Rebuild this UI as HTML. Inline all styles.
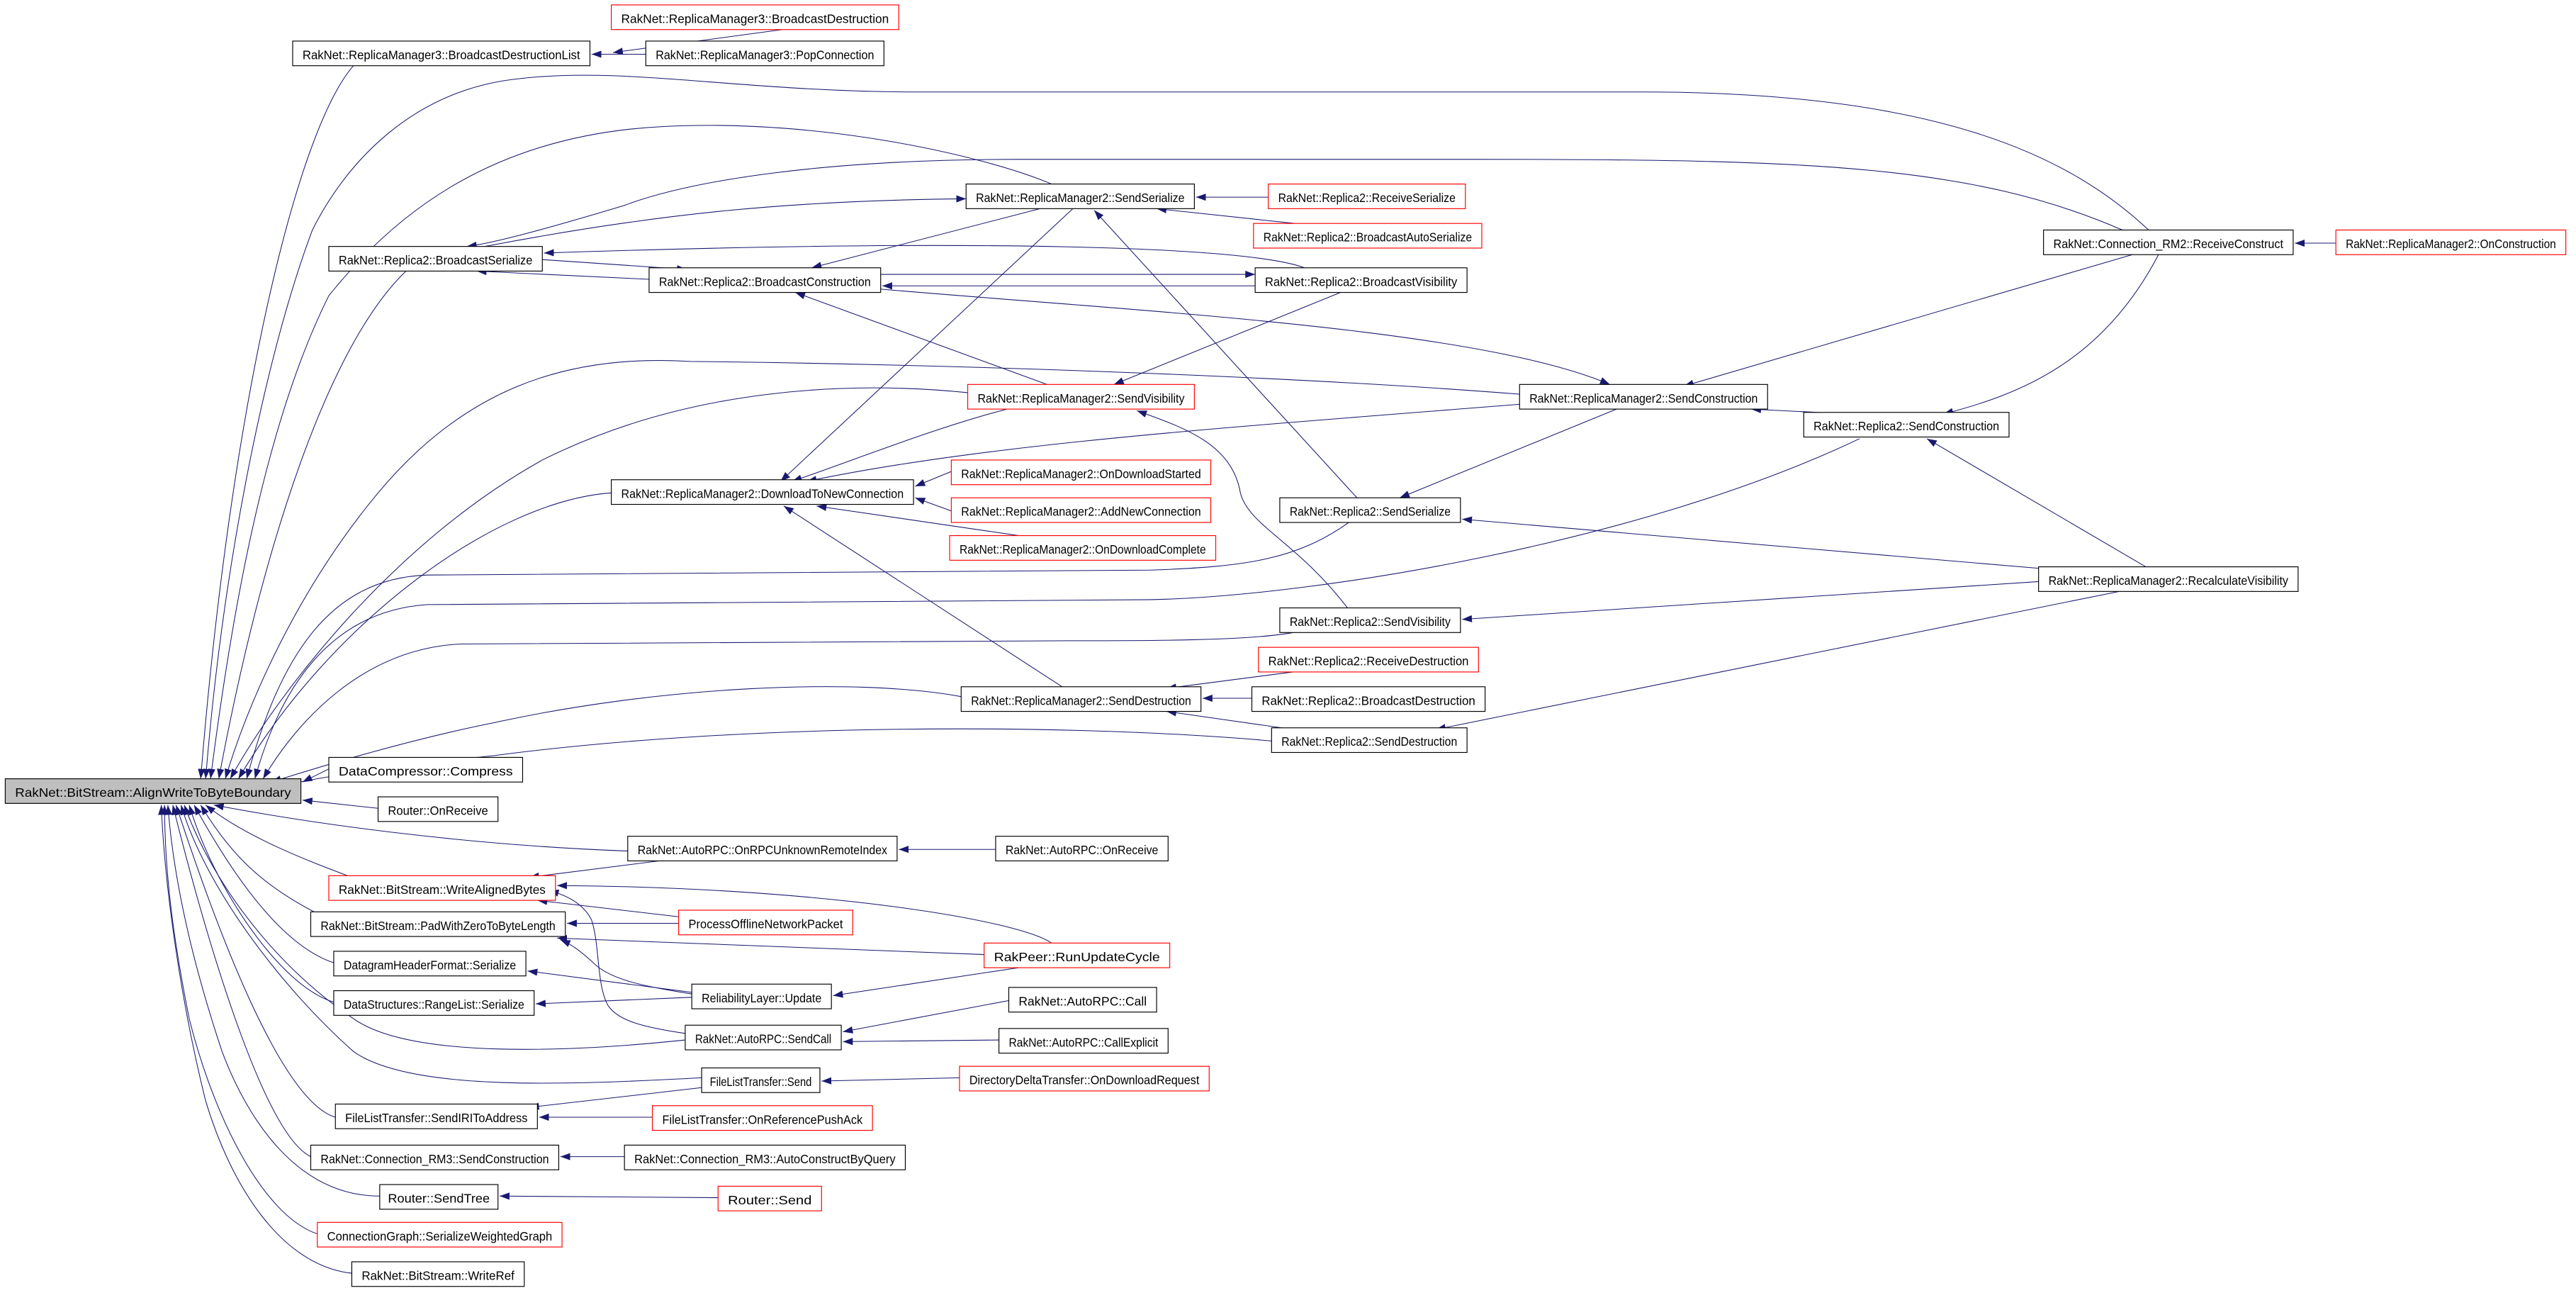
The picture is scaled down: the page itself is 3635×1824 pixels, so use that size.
<!DOCTYPE html>
<html><head><meta charset="utf-8"><style>
html,body{margin:0;padding:0;background:#fff;}
svg{display:block;}
text{font-family:"Liberation Sans",sans-serif;font-size:7.6px;fill:#000;}
.b{fill:#fff;stroke:#000;stroke-width:0.5;}
.r{fill:#fff;stroke:#ff0000;stroke-width:0.5;}
.e{fill:none;stroke:#191970;stroke-width:0.45;marker-end:url(#a);}
</style></head><body>
<svg width="3635" height="1824" viewBox="0 0 1568 787" xmlns="http://www.w3.org/2000/svg">
<defs><marker id="a" markerUnits="userSpaceOnUse" markerWidth="7" markerHeight="5" refX="6" refY="2.2" orient="auto"><path d="M0,0 L6,2.2 L0,4.4 z" fill="#191970"/></marker></defs>
<rect width="1568" height="787" fill="#fff"/>
<!-- edges -->
<g>
<path class="e" d="M476,18 L373,32"/>
<path class="e" d="M393,33 L360,33"/>
<path class="e" d="M215,40 C180,80 140,250 122,474"/>
<path class="e" d="M1308,140 C1260,95 1180,56 1000,56 L560,56 C450,56 380,40 315,48 C250,55 210,100 190,140 C160,220 135,350 125,474"/>
<path class="e" d="M640,112 C600,95 500,72 404,77 C300,82 240,130 200,180 C160,260 140,380 128,474"/>
<path class="e" d="M247,165 C200,210 160,330 133,474"/>
<path class="e" d="M926,240 C800,230 600,222 420,220 C340,215 280,240 230,300 C180,360 150,430 137,474"/>
<path class="e" d="M589,239 C520,232 420,235 330,280 C240,330 170,420 140,474"/>
<path class="e" d="M372,300 C300,305 200,380 145,474"/>
<path class="e" d="M821,318 C790,340 760,345 700,347 L260,350 C200,352 170,400 150,474"/>
<path class="e" d="M1132,267 C1000,330 800,363 700,365 L260,368 C200,372 170,420 155,474"/>
<path class="e" d="M787,385 C760,390 700,390 650,390 L280,392 C220,395 180,440 160,474"/>
<path class="e" d="M585,424 C520,412 400,418 300,440 C250,450 200,465 165,476"/>
<path class="e" d="M774,451 C650,440 450,440 300,460 C250,465 200,472 172,478"/>
<path class="e" d="M200,468 L184,476"/>
<path class="e" d="M230,492 L184,487"/>
<path class="e" d="M382,518 C300,515 210,505 130,490"/>
<path class="e" d="M214,534 C190,525 150,510 125,490"/>
<path class="e" d="M197,558 C160,540 140,520 122,490"/>
<path class="e" d="M203,586 C170,575 140,530 118,490"/>
<path class="e" d="M203,610 C170,600 130,540 115,490"/>
<path class="e" d="M417,633 C350,640 250,645 215,620 C170,590 130,540 112,490"/>
<path class="e" d="M427,656 C350,660 250,665 215,640 C170,600 125,540 110,490"/>
<path class="e" d="M204,680 C170,670 130,560 107,490"/>
<path class="e" d="M189,704 C160,690 125,570 105,490"/>
<path class="e" d="M231,728 C180,728 150,680 135,640 C115,580 105,530 102,490"/>
<path class="e" d="M193,751 C160,740 130,680 115,620 C105,570 100,530 100,490"/>
<path class="e" d="M214,775 C170,770 140,720 125,670 C110,610 100,540 98,490"/>
<!-- upper middle -->
<path class="e" d="M1292,140 C1200,100 1100,97 900,97 L620,97 C500,97 420,110 380,125 C330,140 300,148 284,150"/>
<path class="e" d="M295,150 C400,130 480,122 588,121"/>
<path class="e" d="M772,120 L728,120"/>
<path class="e" d="M788,136 L704,127"/>
<path class="e" d="M794,163 C760,150 600,145 331,154"/>
<path class="e" d="M330,158 L418,164"/>
<path class="e" d="M395,170 L290,165"/>
<path class="e" d="M633,127 L494,163"/>
<path class="e" d="M536,167 L764,167"/>
<path class="e" d="M764,174 L537,174"/>
<path class="e" d="M536,176 C700,190 900,200 980,234"/>
<path class="e" d="M1298,155 L1025,235"/>
<path class="e" d="M1314,155 C1280,220 1230,240 1183,252"/>
<path class="e" d="M1126,252 L1066,249"/>
<path class="e" d="M1422,148 L1397,148"/>
<path class="e" d="M640,235 L484,178"/>
<path class="e" d="M816,178 L678,234"/>
<path class="e" d="M653,127 L475,293"/>
<path class="e" d="M613,249 C570,260 520,280 482,293"/>
<path class="e" d="M926,246 C750,260 600,270 491,293"/>
<path class="e" d="M826,303 L666,128"/>
<path class="e" d="M984,249 L852,303"/>
<path class="e" d="M1242,346 L890,316"/>
<path class="e" d="M1308,346 L1173,267"/>
<path class="e" d="M1241,354 L890,377"/>
<path class="e" d="M1290,360 L874,444"/>
<path class="e" d="M821,371 C790,330 760,320 755,300 C750,270 720,260 692,250"/>
<path class="e" d="M579,287 L557,296"/>
<path class="e" d="M579,311 L557,303"/>
<path class="e" d="M620,326 L497,308"/>
<path class="e" d="M648,419 L477,308"/>
<path class="e" d="M787,409 L710,419"/>
<path class="e" d="M762,425 L732,425"/>
<path class="e" d="M787,444 L710,433"/>
<!-- lower middle -->
<path class="e" d="M606,517 L547,517"/>
<path class="e" d="M409,523 L322,534"/>
<path class="e" d="M640,574 C620,560 500,540 339,539"/>
<path class="e" d="M413,558 L327,548"/>
<path class="e" d="M417,629 C390,625 376,621 370,612 C363,600 365,575 360,560 C355,550 345,545 334,542"/>
<path class="e" d="M413,562 L345,562"/>
<path class="e" d="M599,581 L339,571"/>
<path class="e" d="M421,605 C390,600 370,596 360,585 C352,578 348,575 341,572"/>
<path class="e" d="M421,604 L321,591"/>
<path class="e" d="M421,607 L326,611"/>
<path class="e" d="M620,589 L507,606"/>
<path class="e" d="M614,609 L513,628"/>
<path class="e" d="M608,633 L513,634"/>
<path class="e" d="M427,662 L322,674"/>
<path class="e" d="M584,656 L500,658"/>
<path class="e" d="M397,680 L328,680"/>
<path class="e" d="M380,704 L341,704"/>
<path class="e" d="M437,729 L304,728"/>
</g>
<!-- nodes -->
<g>
<rect x="3" y="474" width="180" height="15" fill="#bfbfbf" stroke="#000" stroke-width="0.5"/><text x="93" y="485" text-anchor="middle" textLength="168" lengthAdjust="spacingAndGlyphs">RakNet::BitStream::AlignWriteToByteBoundary</text>
<rect class="r" x="372" y="3" width="175" height="15"/><text x="459.5" y="14" text-anchor="middle" textLength="163" lengthAdjust="spacingAndGlyphs">RakNet::ReplicaManager3::BroadcastDestruction</text>
<rect class="b" x="178" y="25" width="181" height="15"/><text x="268.5" y="36" text-anchor="middle" textLength="169" lengthAdjust="spacingAndGlyphs">RakNet::ReplicaManager3::BroadcastDestructionList</text>
<rect class="b" x="393" y="25" width="145" height="15"/><text x="465.5" y="36" text-anchor="middle" textLength="133" lengthAdjust="spacingAndGlyphs">RakNet::ReplicaManager3::PopConnection</text>
<rect class="b" x="200" y="150" width="130" height="15"/><text x="265" y="161" text-anchor="middle" textLength="118" lengthAdjust="spacingAndGlyphs">RakNet::Replica2::BroadcastSerialize</text>
<rect class="b" x="588" y="112" width="139" height="15"/><text x="657.5" y="123" text-anchor="middle" textLength="127" lengthAdjust="spacingAndGlyphs">RakNet::ReplicaManager2::SendSerialize</text>
<rect class="r" x="772" y="112" width="120" height="15"/><text x="832" y="123" text-anchor="middle" textLength="108" lengthAdjust="spacingAndGlyphs">RakNet::Replica2::ReceiveSerialize</text>
<rect class="r" x="763" y="136" width="139" height="15"/><text x="832.5" y="147" text-anchor="middle" textLength="127" lengthAdjust="spacingAndGlyphs">RakNet::Replica2::BroadcastAutoSerialize</text>
<rect class="b" x="395" y="163" width="141" height="15"/><text x="465.5" y="174" text-anchor="middle" textLength="129" lengthAdjust="spacingAndGlyphs">RakNet::Replica2::BroadcastConstruction</text>
<rect class="b" x="764" y="163" width="129" height="15"/><text x="828.5" y="174" text-anchor="middle" textLength="117" lengthAdjust="spacingAndGlyphs">RakNet::Replica2::BroadcastVisibility</text>
<rect class="b" x="1244" y="140" width="152" height="15"/><text x="1320" y="151" text-anchor="middle" textLength="140" lengthAdjust="spacingAndGlyphs">RakNet::Connection_RM2::ReceiveConstruct</text>
<rect class="r" x="1422" y="140" width="140" height="15"/><text x="1492" y="151" text-anchor="middle" textLength="128" lengthAdjust="spacingAndGlyphs">RakNet::ReplicaManager2::OnConstruction</text>
<rect class="r" x="589" y="234" width="138" height="15"/><text x="658" y="245" text-anchor="middle" textLength="126" lengthAdjust="spacingAndGlyphs">RakNet::ReplicaManager2::SendVisibility</text>
<rect class="b" x="925" y="234" width="151" height="15"/><text x="1000.5" y="245" text-anchor="middle" textLength="139" lengthAdjust="spacingAndGlyphs">RakNet::ReplicaManager2::SendConstruction</text>
<rect class="b" x="1098" y="251" width="125" height="15"/><text x="1160.5" y="262" text-anchor="middle" textLength="113" lengthAdjust="spacingAndGlyphs">RakNet::Replica2::SendConstruction</text>
<rect class="b" x="372" y="292" width="184" height="15"/><text x="464" y="303" text-anchor="middle" textLength="172" lengthAdjust="spacingAndGlyphs">RakNet::ReplicaManager2::DownloadToNewConnection</text>
<rect class="r" x="579" y="280" width="158" height="15"/><text x="658" y="291" text-anchor="middle" textLength="146" lengthAdjust="spacingAndGlyphs">RakNet::ReplicaManager2::OnDownloadStarted</text>
<rect class="r" x="579" y="303" width="158" height="15"/><text x="658" y="314" text-anchor="middle" textLength="146" lengthAdjust="spacingAndGlyphs">RakNet::ReplicaManager2::AddNewConnection</text>
<rect class="r" x="578" y="326" width="162" height="15"/><text x="659" y="337" text-anchor="middle" textLength="150" lengthAdjust="spacingAndGlyphs">RakNet::ReplicaManager2::OnDownloadComplete</text>
<rect class="b" x="779" y="303" width="110" height="15"/><text x="834" y="314" text-anchor="middle" textLength="98" lengthAdjust="spacingAndGlyphs">RakNet::Replica2::SendSerialize</text>
<rect class="b" x="1241" y="345" width="158" height="15"/><text x="1320" y="356" text-anchor="middle" textLength="146" lengthAdjust="spacingAndGlyphs">RakNet::ReplicaManager2::RecalculateVisibility</text>
<rect class="b" x="779" y="370" width="110" height="15"/><text x="834" y="381" text-anchor="middle" textLength="98" lengthAdjust="spacingAndGlyphs">RakNet::Replica2::SendVisibility</text>
<rect class="r" x="766" y="394" width="134" height="15"/><text x="833" y="405" text-anchor="middle" textLength="122" lengthAdjust="spacingAndGlyphs">RakNet::Replica2::ReceiveDestruction</text>
<rect class="b" x="585" y="418" width="146" height="15"/><text x="658" y="429" text-anchor="middle" textLength="134" lengthAdjust="spacingAndGlyphs">RakNet::ReplicaManager2::SendDestruction</text>
<rect class="b" x="762" y="418" width="142" height="15"/><text x="833" y="429" text-anchor="middle" textLength="130" lengthAdjust="spacingAndGlyphs">RakNet::Replica2::BroadcastDestruction</text>
<rect class="b" x="774" y="443" width="119" height="15"/><text x="833.5" y="454" text-anchor="middle" textLength="107" lengthAdjust="spacingAndGlyphs">RakNet::Replica2::SendDestruction</text>
<rect class="b" x="200" y="461" width="118" height="15"/><text x="259" y="472" text-anchor="middle" textLength="106" lengthAdjust="spacingAndGlyphs">DataCompressor::Compress</text>
<rect class="b" x="230" y="485" width="73" height="15"/><text x="266.5" y="496" text-anchor="middle" textLength="61" lengthAdjust="spacingAndGlyphs">Router::OnReceive</text>
<rect class="b" x="382" y="509" width="164" height="15"/><text x="464" y="520" text-anchor="middle" textLength="152" lengthAdjust="spacingAndGlyphs">RakNet::AutoRPC::OnRPCUnknownRemoteIndex</text>
<rect class="b" x="606" y="509" width="105" height="15"/><text x="658.5" y="520" text-anchor="middle" textLength="93" lengthAdjust="spacingAndGlyphs">RakNet::AutoRPC::OnReceive</text>
<rect class="r" x="200" y="533" width="138" height="15"/><text x="269" y="544" text-anchor="middle" textLength="126" lengthAdjust="spacingAndGlyphs">RakNet::BitStream::WriteAlignedBytes</text>
<rect class="r" x="413" y="554" width="106" height="15"/><text x="466" y="565" text-anchor="middle" textLength="94" lengthAdjust="spacingAndGlyphs">ProcessOfflineNetworkPacket</text>
<rect class="b" x="189" y="555" width="155" height="15"/><text x="266.5" y="566" text-anchor="middle" textLength="143" lengthAdjust="spacingAndGlyphs">RakNet::BitStream::PadWithZeroToByteLength</text>
<rect class="r" x="599" y="574" width="113" height="15"/><text x="655.5" y="585" text-anchor="middle" textLength="101" lengthAdjust="spacingAndGlyphs">RakPeer::RunUpdateCycle</text>
<rect class="b" x="203" y="579" width="117" height="15"/><text x="261.5" y="590" text-anchor="middle" textLength="105" lengthAdjust="spacingAndGlyphs">DatagramHeaderFormat::Serialize</text>
<rect class="b" x="421" y="599" width="85" height="15"/><text x="463.5" y="610" text-anchor="middle" textLength="73" lengthAdjust="spacingAndGlyphs">ReliabilityLayer::Update</text>
<rect class="b" x="203" y="603" width="122" height="15"/><text x="264" y="614" text-anchor="middle" textLength="110" lengthAdjust="spacingAndGlyphs">DataStructures::RangeList::Serialize</text>
<rect class="b" x="417" y="624" width="95" height="15"/><text x="464.5" y="635" text-anchor="middle" textLength="83" lengthAdjust="spacingAndGlyphs">RakNet::AutoRPC::SendCall</text>
<rect class="b" x="614" y="601" width="90" height="15"/><text x="659" y="612" text-anchor="middle" textLength="78" lengthAdjust="spacingAndGlyphs">RakNet::AutoRPC::Call</text>
<rect class="b" x="608" y="626" width="103" height="15"/><text x="659.5" y="637" text-anchor="middle" textLength="91" lengthAdjust="spacingAndGlyphs">RakNet::AutoRPC::CallExplicit</text>
<rect class="b" x="427" y="650" width="72" height="15"/><text x="463" y="661" text-anchor="middle" textLength="62" lengthAdjust="spacingAndGlyphs">FileListTransfer::Send</text>
<rect class="r" x="584" y="649" width="152" height="15"/><text x="660" y="660" text-anchor="middle" textLength="140" lengthAdjust="spacingAndGlyphs">DirectoryDeltaTransfer::OnDownloadRequest</text>
<rect class="b" x="204" y="672" width="123" height="15"/><text x="265.5" y="683" text-anchor="middle" textLength="111" lengthAdjust="spacingAndGlyphs">FileListTransfer::SendIRIToAddress</text>
<rect class="r" x="397" y="673" width="134" height="15"/><text x="464" y="684" text-anchor="middle" textLength="122" lengthAdjust="spacingAndGlyphs">FileListTransfer::OnReferencePushAck</text>
<rect class="b" x="189" y="697" width="151" height="15"/><text x="264.5" y="708" text-anchor="middle" textLength="139" lengthAdjust="spacingAndGlyphs">RakNet::Connection_RM3::SendConstruction</text>
<rect class="b" x="380" y="697" width="171" height="15"/><text x="465.5" y="708" text-anchor="middle" textLength="159" lengthAdjust="spacingAndGlyphs">RakNet::Connection_RM3::AutoConstructByQuery</text>
<rect class="b" x="231" y="721" width="72" height="15"/><text x="267" y="732" text-anchor="middle" textLength="62" lengthAdjust="spacingAndGlyphs">Router::SendTree</text>
<rect class="r" x="437" y="722" width="63" height="15"/><text x="468.5" y="733" text-anchor="middle" textLength="51" lengthAdjust="spacingAndGlyphs">Router::Send</text>
<rect class="r" x="193" y="744" width="149" height="15"/><text x="267.5" y="755" text-anchor="middle" textLength="137" lengthAdjust="spacingAndGlyphs">ConnectionGraph::SerializeWeightedGraph</text>
<rect class="b" x="214" y="768" width="105" height="15"/><text x="266.5" y="779" text-anchor="middle" textLength="93" lengthAdjust="spacingAndGlyphs">RakNet::BitStream::WriteRef</text>
</g>
</svg>
</body></html>
